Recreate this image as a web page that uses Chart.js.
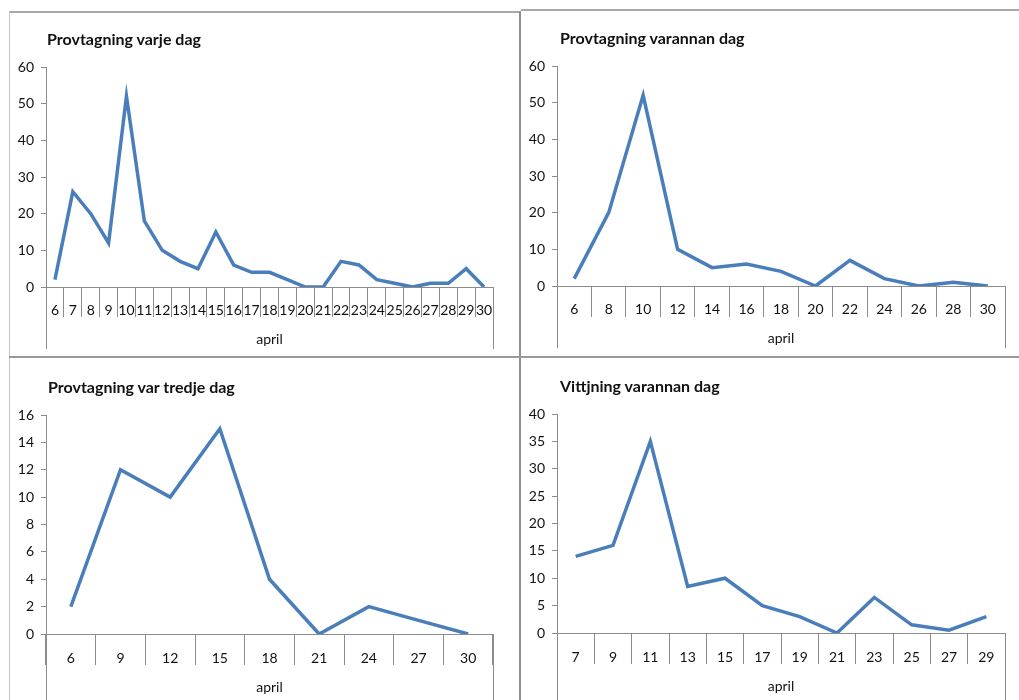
<!DOCTYPE html>
<html>
<head>
<meta charset="utf-8">
<script src="https://cdn.jsdelivr.net/npm/chart.js@4.4.1/dist/chart.umd.min.js"></script>
<style>
    body { margin: 0; background: #fff; width: 1019px; height: 700px; overflow: hidden; position: relative; font-family: Lato, sans-serif; }
    .panel { position: absolute; box-sizing: border-box; }
    .panel canvas { position: absolute; left: 0; top: 0; }
    .title { position: absolute; font-weight: bold; font-size: 16px; color: #111; white-space: nowrap; line-height: 20px; }
    .line { position: absolute; background: #9a9a9a; }
</style>
</head>
<body>

<div class="line" style="left:9px;top:11px;width:512px;height:2px;background:#a8a8a8"></div>
<div class="line" style="left:521px;top:9px;width:498px;height:2px;background:#a8a8a8"></div>
<div class="line" style="left:9px;top:11px;width:1px;height:689px;background:#c4c4c4"></div>
<div class="line" style="left:519px;top:11px;width:2px;height:689px;background:#8e8e8e"></div>
<div class="line" style="left:9px;top:356px;width:1010px;height:2px;background:#999"></div>

<div class="panel" style="left:10px;top:12px;width:510px;height:345px"><canvas id="c1" width="510" height="345"></canvas></div>
<div class="panel" style="left:521px;top:10px;width:498px;height:347px"><canvas id="c2" width="498" height="347"></canvas></div>
<div class="panel" style="left:10px;top:358px;width:510px;height:342px"><canvas id="c3" width="510" height="342"></canvas></div>
<div class="panel" style="left:521px;top:358px;width:498px;height:342px"><canvas id="c4" width="498" height="342"></canvas></div>

<div class="title" style="left:47px;top:29px">Provtagning varje dag</div>
<div class="title" style="left:560px;top:28px">Provtagning varannan dag</div>
<div class="title" style="left:48px;top:377px">Provtagning var tredje dag</div>
<div class="title" style="left:560px;top:376px">Vittjning varannan dag</div>

<script>
// provtagning varje dag, 6-30 april
const daysEvery = ['6','7','8','9','10','11','12','13','14','15','16','17','18','19','20','21','22','23','24','25','26','27','28','29','30'];
const valuesEvery = [2, 26, 20, 12, 52, 18, 10, 7, 5, 15, 6, 4, 4, 2, 0, 0, 7, 6, 2, 1, 0, 1, 1, 5, 0];

// provtagning varannan dag
const daysSecond = ['6','8','10','12','14','16','18','20','22','24','26','28','30'];
const valuesSecond = [2, 20, 52, 10, 5, 6, 4, 0, 7, 2, 0, 1, 0];

// provtagning var tredje dag
const daysThird = ['6','9','12','15','18','21','24','27','30'];
const valuesThird = [2, 12, 10, 15, 4, 0, 2, 1, 0];

// vittjning varannan dag
const daysEmpty = ['7','9','11','13','15','17','19','21','23','25','27','29'];
const valuesEmpty = [14, 16, 35, 8.5, 10, 5, 3, 0, 6.5, 1.5, 0.5, 3];

const axisGray = '#8c8c8c';
const lineBlue = '#4a7ebb';

// outer edges of the category axis run down past the month row
const outerEdges = {
    id: 'outerEdges',
    afterDraw(chart) {
        const x = chart.scales.x;
        const ctx = chart.ctx;
        ctx.save();
        ctx.strokeStyle = axisGray;
        ctx.lineWidth = 1;
        ctx.beginPath();
        [x.left, x.right].forEach(px => {
            const p = Math.round(px) + 0.5;
            ctx.moveTo(p, chart.chartArea.bottom);
            ctx.lineTo(p, x.bottom);
        });
        ctx.stroke();
        ctx.restore();
    }
};

function makeChart(id, labels, values, yMax, step, opt) {
    const ctx = document.getElementById(id).getContext('2d');
    return new Chart(ctx, {
        type: 'line',
        data: {
            labels: labels,
            datasets: [{
                data: values,
                borderColor: lineBlue,
                borderWidth: 3.5,
                pointRadius: 0,
                tension: 0,
                fill: false
            }]
        },
        options: {
            responsive: false,
            animation: false,
            layout: { padding: { left: 0, top: opt.top, right: opt.right, bottom: opt.bottom } },
            plugins: { legend: { display: false }, tooltip: { enabled: false } },
            scales: {
                x: {
                    offset: true,
                    afterFit: s => { s.height = opt.axisH; },
                    grid: { offset: true, drawOnChartArea: false, tickLength: opt.tickLen, color: axisGray },
                    border: { color: axisGray },
                    ticks: {
                        autoSkip: false, maxRotation: 0, minRotation: 0,
                        padding: opt.labelPad,
                        color: '#111',
                        font: { family: 'Lato', size: 14 }
                    },
                    title: {
                        display: true, text: 'april', color: '#111',
                        font: { family: 'Lato', size: 14 },
                        padding: { top: 0, bottom: opt.monthPad }
                    }
                },
                y: {
                    min: 0, max: yMax,
                    afterFit: s => { s.width = 36; },
                    grid: { drawOnChartArea: false, tickLength: 5, color: axisGray },
                    border: { color: axisGray },
                    ticks: {
                        stepSize: step, padding: 7, color: '#111',
                        font: { family: 'Lato', size: 14 }
                    }
                }
            }
        },
        plugins: [outerEdges]
    });
}

makeChart('c1', daysEvery, valuesEvery, 60, 10, { top: 55, right: 27, bottom: 8, axisH: 62, tickLen: 30, labelPad: -15, monthPad: 1 });
makeChart('c2', daysSecond, valuesSecond, 60, 10, { top: 56, right: 14, bottom: 9, axisH: 62, tickLen: 31, labelPad: -16, monthPad: 1 });
makeChart('c3', daysThird, valuesThird, 16, 2, { top: 57, right: 27, bottom: 0, axisH: 66, tickLen: 31, labelPad: -15, monthPad: 4 });
makeChart('c4', daysEmpty, valuesEmpty, 40, 5, { top: 56, right: 14, bottom: 0, axisH: 67, tickLen: 31, labelPad: -15, monthPad: 5 });
</script>
</body>
</html>
